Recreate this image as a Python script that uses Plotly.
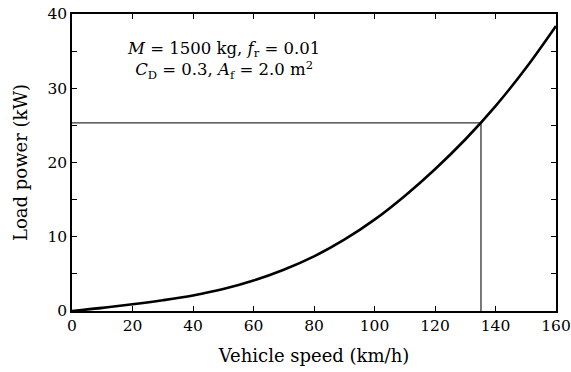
import plotly.graph_objects as go

speed = [0, 10, 20, 30, 40, 50, 60, 70, 80, 90, 100, 110, 120, 130, 140, 150, 160]
power = [0, 0.42, 0.9, 1.45, 2.1, 2.95, 4.1, 5.55, 7.35, 9.6, 12.3, 15.5, 19.1, 23.1, 27.6, 32.7, 38.4]

op_speed = 135.2
op_power = 25.35

x_ticks = [0, 20, 40, 60, 80, 100, 120, 140, 160]
y_ticks = [0, 5, 10, 15, 20, 25, 30, 35, 40]
y_text = ["0", "", "10", "", "20", "", "30", "", "40"]

font = "DejaVu Serif"
fsize = 15.5

fig = go.Figure()
fig.add_trace(go.Scatter(x=[0, op_speed, op_speed], y=[op_power, op_power, 0], mode="lines",
                         line=dict(color="#333333", width=1.3), hoverinfo="skip"))
fig.add_trace(go.Scatter(x=speed, y=power, mode="lines",
                         line=dict(color="black", width=2.6, shape="spline", smoothing=1.0)))

fig.add_annotation(x=50, y=33.8, xref="x", yref="y", showarrow=False, align="center",
                   text="<i>M</i> = 1500 kg, <i>f</i><sub>r</sub> = 0.01<br><i>C</i><sub>D</sub> = 0.3, <i>A</i><sub>f</sub> = 2.0 m<sup>2</sup>",
                   font=dict(family=font, size=16.5, color="black"))

axis_common = dict(showgrid=False, zeroline=False, showline=True, linecolor="black", linewidth=1.5,
                   mirror="ticks", ticks="inside", ticklen=5, tickcolor="black", tickwidth=1,
                   ticklabeloverflow="allow",
                   tickfont=dict(family=font, size=fsize, color="black"))

fig.update_xaxes(range=[0, 160], tickvals=x_ticks,
                 title=dict(text="Vehicle speed (km/h)", font=dict(family=font, size=18, color="black"), standoff=15),
                 **axis_common)
fig.update_yaxes(range=[0, 40], tickvals=y_ticks, ticktext=y_text,
                 title=dict(text="Load power (kW)", font=dict(family=font, size=18, color="black"), standoff=15),
                 **axis_common)

fig.update_layout(width=571, height=372, margin=dict(l=72, r=15, t=14, b=61, autoexpand=False),
                  paper_bgcolor="white", plot_bgcolor="white", showlegend=False)

fig.write_html("out.html", config={"displayModeBar": False},
               post_script="document.body.style.margin='0px';")
